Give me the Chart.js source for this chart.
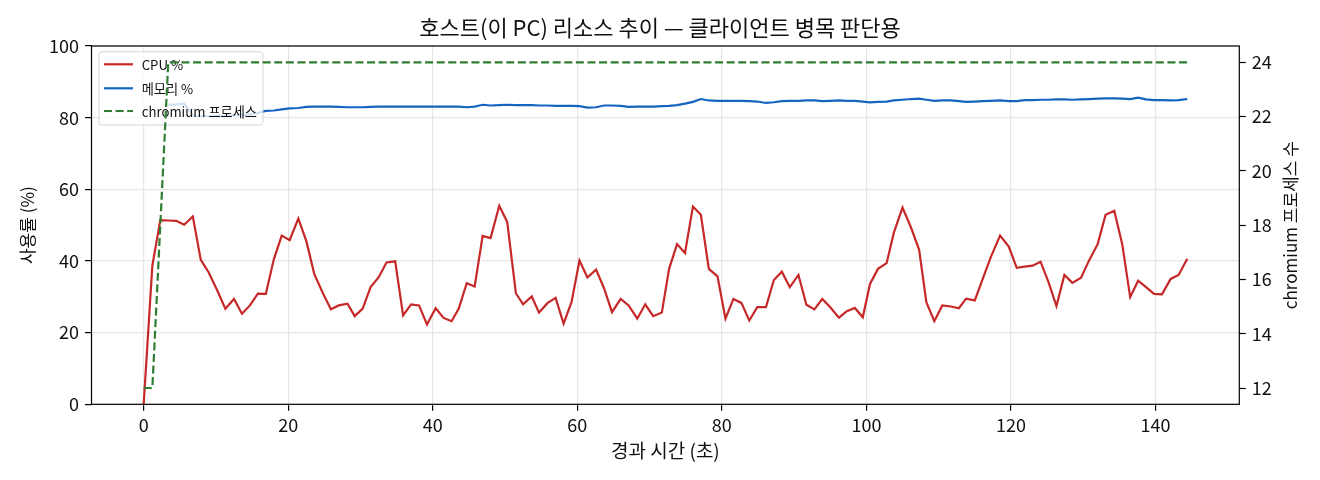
<!DOCTYPE html>
<html>
<head>
<meta charset="utf-8">
<script src="https://cdn.jsdelivr.net/npm/chart.js@4.4.1/dist/chart.umd.min.js"></script>
<style>
  html, body { margin: 0; padding: 0; background: #fff; }
  #wrap { width: 1320px; height: 480px; position: relative; }
</style>
</head>
<body>
<div id="wrap"><canvas id="c"></canvas></div>
<script>
const titleText = '호스트(이 PC) 리소스 추이 — 클라이언트 병목 판단용';
const xLabel = '경과 시간 (초)';
const yLeftLabel = '사용률 (%)';
const yRightLabel = 'chromium 프로세스 수';
const seriesNames = ['CPU %', '메모리 %', 'chromium 프로세스'];

const times = [0.0,1.2,2.3,3.4,4.5,5.6,6.8,7.9,9.0,10.2,11.3,12.5,13.6,14.7,15.8,16.9,18.0,19.1,20.2,21.4,
  22.5,23.6,24.8,25.9,27.0,28.2,29.2,30.3,31.4,32.5,33.6,34.8,35.9,37.0,38.1,39.2,40.4,41.5,42.6,43.6,
  44.7,45.8,46.9,48.0,49.2,50.3,51.5,52.5,53.7,54.7,55.9,57.0,58.1,59.2,60.3,61.4,62.6,63.7,64.8,66.0,
  67.1,68.3,69.4,70.5,71.7,72.7,73.8,74.9,76.0,77.1,78.2,79.4,80.5,81.6,82.7,83.8,84.9,86.1,87.2,88.3,
  89.4,90.6,91.7,92.8,93.9,95.0,96.2,97.3,98.4,99.5,100.5,101.6,102.8,103.8,105.0,106.2,107.3,108.3,109.4,110.5,
  111.7,112.8,113.8,115.0,116.1,117.2,118.5,119.7,120.8,121.9,123.0,124.1,125.2,126.3,127.4,128.5,129.7,130.8,132.0,133.1,
  134.3,135.4,136.5,137.6,138.7,139.8,140.9,142.1,143.2,144.4];

const cpu = [0,38.7,51.4,51.3,51.2,50.1,52.4,40.3,36.8,31.7,26.7,29.4,25.3,27.6,30.9,30.8,40.4,47.1,45.8,51.8,
  45.6,36.4,31.0,26.5,27.6,28.1,24.6,26.7,32.7,35.4,39.6,39.9,24.8,27.9,27.6,22.3,26.8,24.1,23.2,26.7,
  33.8,32.9,47.0,46.4,55.4,50.9,31.0,27.9,30.1,25.6,28.3,29.7,22.5,28.5,40.1,35.4,37.6,32.4,25.7,29.4,
  27.6,23.9,27.9,24.6,25.6,37.8,44.7,42.2,55.2,52.9,37.8,35.7,23.9,29.4,28.3,23.4,27.1,27.1,34.7,37.0,
  32.7,36.1,27.8,26.5,29.4,27.1,24.2,26.0,26.9,24.3,33.6,37.8,39.4,47.9,54.9,49.2,43.1,28.5,23.2,27.6,
  27.3,26.8,29.5,29.0,35.0,41.0,47.1,44.0,38.1,38.4,38.7,39.8,34.1,27.4,36.1,33.9,35.3,40.1,44.7,52.9,
  54.0,44.7,29.9,34.5,32.7,30.8,30.7,35.0,36.1,40.6];

const mem = [null,null,null,83.6,83.7,83.9,80.6,80.4,80.4,80.5,80.5,80.6,80.7,80.9,81.3,81.9,82.0,82.3,82.6,82.7,
  83.0,83.1,83.1,83.1,83.0,82.9,82.9,82.9,83.0,83.1,83.1,83.1,83.1,83.1,83.1,83.1,83.1,83.1,83.1,83.1,
  82.9,83.1,83.6,83.4,83.5,83.6,83.5,83.5,83.5,83.4,83.4,83.3,83.3,83.3,83.2,82.8,82.9,83.4,83.4,83.3,
  83.0,83.1,83.1,83.1,83.2,83.3,83.5,83.9,84.4,85.2,84.8,84.7,84.7,84.7,84.7,84.6,84.5,84.1,84.3,84.6,
  84.7,84.7,84.8,84.8,84.6,84.7,84.8,84.7,84.7,84.5,84.25,84.4,84.5,84.8,85.0,85.2,85.3,85.0,84.7,84.8,
  84.8,84.6,84.4,84.5,84.6,84.7,84.8,84.6,84.6,84.9,84.9,85.0,85.0,85.1,85.1,85.0,85.1,85.2,85.3,85.4,
  85.4,85.3,85.2,85.6,85.1,84.9,84.9,84.8,84.9,85.2];

const procs = [12,12,18,24,24,24,24,24,24,24,24,24,24,24,24,24,24,24,24,24,
  24,24,24,24,24,24,24,24,24,24,24,24,24,24,24,24,24,24,24,24,
  24,24,24,24,24,24,24,24,24,24,24,24,24,24,24,24,24,24,24,24,
  24,24,24,24,24,24,24,24,24,24,24,24,24,24,24,24,24,24,24,24,
  24,24,24,24,24,24,24,24,24,24,24,24,24,24,24,24,24,24,24,24,
  24,24,24,24,24,24,24,24,24,24,24,24,24,24,24,24,24,24,24,24,
  24,24,24,24,24,24,24,24,24,24];

const xTicks = [0,20,40,60,80,100,120,140];
const yLeftTicks = [0,20,40,60,80,100];
const yRightTicks = [12,14,16,18,20,22,24];

const FONT = "'Noto Sans CJK KR', 'Noto Sans', sans-serif";
const pts = vals => times.map((t, i) => ({x: t, y: vals[i]}));
const colors = ['#c62828', '#1565c0', '#2e7d32'];

const framePlugin = {
  id: 'frame',
  afterDraw(chart) {
    const a = chart.chartArea, ctx = chart.ctx;
    ctx.save();
    ctx.strokeStyle = '#000';
    ctx.lineWidth = 1.2;
    ctx.strokeRect(a.left, a.top, a.right - a.left, a.bottom - a.top);
    // right axis title, rotated to read bottom-to-top
    ctx.translate(1291, (a.top + a.bottom) / 2);
    ctx.rotate(-Math.PI / 2);
    ctx.fillStyle = '#111';
    ctx.font = '17px ' + FONT;
    ctx.textAlign = 'center';
    ctx.textBaseline = 'middle';
    ctx.fillText(yRightLabel, 0, 0);
    ctx.restore();
  }
};

const legendPlugin = {
  id: 'mplLegend',
  afterDatasetDraw(chart, args) {
    if (args.index !== 1) return;
    const ctx = chart.ctx, a = chart.chartArea;
    const ds = chart.data.datasets;
    ctx.save();
    ctx.font = '13.2px ' + FONT;
    let maxW = 0;
    ds.forEach(d => { maxW = Math.max(maxW, ctx.measureText(d.label).width); });
    const x0 = a.left + 7.5, y0 = a.top + 5.7;
    const textX = x0 + 42.7;
    const w = textX - x0 + maxW + 6, h = 73.3;
    const r = 3;
    ctx.beginPath();
    ctx.moveTo(x0 + r, y0);
    ctx.lineTo(x0 + w - r, y0); ctx.quadraticCurveTo(x0 + w, y0, x0 + w, y0 + r);
    ctx.lineTo(x0 + w, y0 + h - r); ctx.quadraticCurveTo(x0 + w, y0 + h, x0 + w - r, y0 + h);
    ctx.lineTo(x0 + r, y0 + h); ctx.quadraticCurveTo(x0, y0 + h, x0, y0 + h - r);
    ctx.lineTo(x0, y0 + r); ctx.quadraticCurveTo(x0, y0, x0 + r, y0);
    ctx.closePath();
    ctx.fillStyle = 'rgba(255,255,255,0.8)';
    ctx.fill();
    ctx.strokeStyle = 'rgba(204,204,204,0.8)';
    ctx.lineWidth = 1;
    ctx.stroke();
    const rows = [y0 + 12.6, y0 + 36.6, y0 + 59.3];
    ds.forEach((d, i) => {
      ctx.beginPath();
      ctx.strokeStyle = d.borderColor;
      ctx.lineWidth = d.borderWidth;
      ctx.setLineDash(d.borderDash || []);
      ctx.moveTo(x0 + 5, rows[i]);
      ctx.lineTo(x0 + 34, rows[i]);
      ctx.stroke();
      ctx.setLineDash([]);
      ctx.fillStyle = '#111';
      ctx.textBaseline = 'middle';
      ctx.textAlign = 'left';
      ctx.fillText(d.label, textX, rows[i] + 1);
    });
    ctx.restore();
  }
};

const gridTicks = { drawTicks: true, tickLength: 6.5, tickWidth: 1.2, tickColor: '#000' };

new Chart(document.getElementById('c'), {
  type: 'line',
  data: {
    datasets: [
      { label: seriesNames[0], data: pts(cpu), borderColor: colors[0], borderWidth: 2.2, pointRadius: 0, tension: 0, yAxisID: 'y', order: 3 },
      { label: seriesNames[1], data: pts(mem), borderColor: colors[1], borderWidth: 2.2, pointRadius: 0, tension: 0, yAxisID: 'y', order: 2, spanGaps: false },
      { label: seriesNames[2], data: pts(procs), borderColor: colors[2], borderWidth: 2.2, borderDash: [8, 3.6], pointRadius: 0, tension: 0, yAxisID: 'y2', order: 1 }
    ]
  },
  options: {
    responsive: true,
    maintainAspectRatio: false,
    animation: false,
    devicePixelRatio: 1,
    layout: { padding: 0 },
    plugins: {
      legend: { display: false },
      tooltip: { enabled: false },
      title: {
        display: true, text: titleText, color: '#111',
        font: { family: FONT, size: 22, weight: 'normal', lineHeight: 1.2 },
        padding: { top: 14.8, bottom: 4.8 }
      }
    },
    scales: {
      x: {
        type: 'linear', min: -7.22, max: 151.6,
        afterFit: s => { s.height = 75.7; },
        afterBuildTicks: s => { s.ticks = xTicks.map(v => ({ value: v })); },
        border: { display: false },
        grid: Object.assign({ color: '#e6e6e6', lineWidth: 1.2 }, gridTicks),
        ticks: { color: '#111', font: { family: FONT, size: 18 }, padding: 4, maxRotation: 0, autoSkip: false },
        title: { display: true, text: xLabel, color: '#111', font: { family: FONT, size: 19 }, padding: { top: 0, bottom: 17.6 } }
      },
      y: {
        type: 'linear', position: 'left', min: 0, max: 100,
        afterFit: s => { s.width = 91.5; },
        afterBuildTicks: s => { s.ticks = yLeftTicks.map(v => ({ value: v })); },
        border: { display: false },
        grid: Object.assign({ color: '#e6e6e6', lineWidth: 1.2 }, gridTicks),
        ticks: { color: '#111', font: { family: FONT, size: 18 }, padding: 6 },
        title: { display: true, text: yLeftLabel, color: '#111', font: { family: FONT, size: 17 }, padding: { top: 17, bottom: 0 } }
      },
      y2: {
        type: 'linear', position: 'right', min: 11.4, max: 24.6,
        afterFit: s => { s.width = 80.7; },
        afterBuildTicks: s => { s.ticks = yRightTicks.map(v => ({ value: v })); },
        border: { display: false },
        grid: Object.assign({ drawOnChartArea: false, color: '#e6e6e6' }, gridTicks),
        ticks: { color: '#111', font: { family: FONT, size: 18 }, padding: 6 },
        title: { display: false }
      }
    }
  },
  plugins: [legendPlugin, framePlugin]
});
</script>
</body>
</html>
